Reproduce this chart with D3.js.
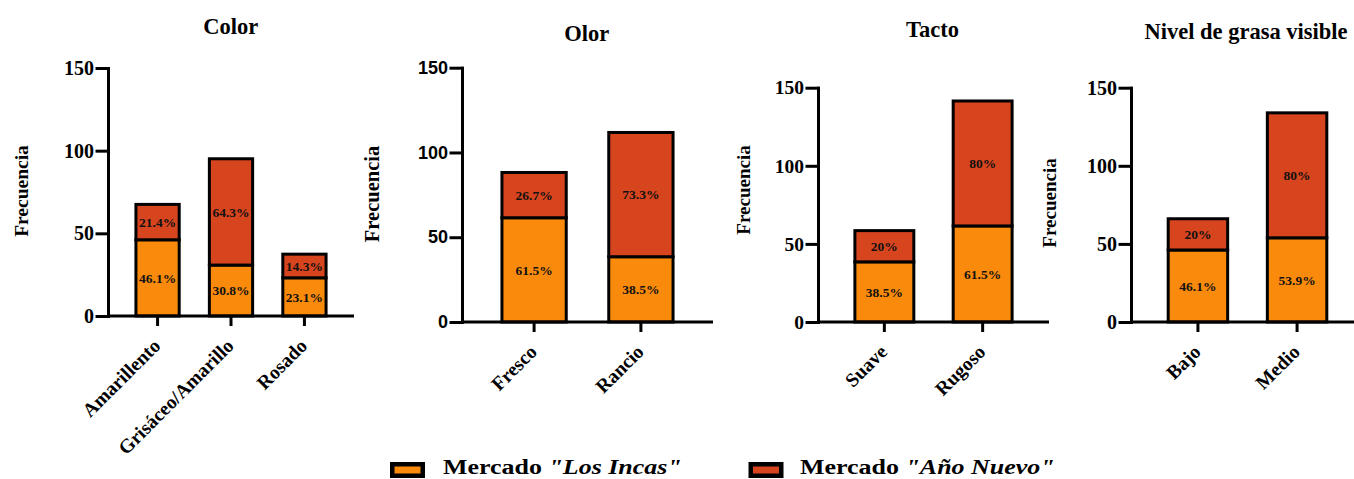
<!DOCTYPE html>
<html>
<head>
<meta charset="utf-8">
<script src="https://cdn.jsdelivr.net/npm/d3@7"></script>
<style>
  html, body { margin: 0; padding: 0; background: #fff; }
  svg { display: block; }
</style>
</head>
<body>
<svg id="chart" width="1354" height="479"></svg>
<script>
// Sensory attributes of the product in two markets (percent of each market's answers)
const colorCats  = ["Amarillento", "Grisáceo/Amarillo", "Rosado"];
const colorIncas = [46.1, 30.8, 23.1];
const colorNuevo = [21.4, 64.3, 14.3];

const olorCats  = ["Fresco", "Rancio"];
const olorIncas = [61.5, 38.5];
const olorNuevo = [26.7, 73.3];

const tactoCats  = ["Suave", "Rugoso"];
const tactoIncas = [38.5, 61.5];
const tactoNuevo = [20, 80];

const grasaCats  = ["Bajo", "Medio"];
const grasaIncas = [46.1, 53.9];
const grasaNuevo = [20, 80];

const panelTitles = ["Color", "Olor", "Tacto", "Nivel de grasa visible"];
const yTicks = [0, 50, 100, 150];
const yLabel = "Frecuencia";
const legendPrefix = "Mercado ";
const seriesNames = ["\"Los Incas\"", "\"Año Nuevo\""];

const COLORS = ["#F98A0B", "#D7451F"];
const SERIF = "'Liberation Serif', 'Times New Roman', serif";
const SANS = "'Liberation Sans', Arial, sans-serif";

const panels = [
  { cats: colorCats, incas: colorIncas, nuevo: colorNuevo },
  { cats: olorCats,  incas: olorIncas,  nuevo: olorNuevo },
  { cats: tactoCats, incas: tactoIncas, nuevo: tactoNuevo },
  { cats: grasaCats, incas: grasaIncas, nuevo: grasaNuevo }
];

// Frame of each small chart on the page
const frames = [
  { x0: 108,  x1: 354,  yTop: 68,   yBot: 316, tx: 230.7, ty: 34,   lx: 21,   ly: 191, lsize: 19.5, tickFont: SERIF, tickSize: 20 },
  { x0: 462,  x1: 713,  yTop: 67.7, yBot: 322, tx: 586.7, ty: 40.5, lx: 371.7, ly: 194, lsize: 20.5, tickFont: SANS, tickSize: 18 },
  { x0: 818,  x1: 1049, yTop: 87.7, yBot: 322, tx: 932.5, ty: 37,   lx: 743,  ly: 190, lsize: 19,   tickFont: SERIF, tickSize: 19.5 },
  { x0: 1131, x1: 1364, yTop: 87.7, yBot: 322, tx: 1246,  ty: 39.3, lx: 1049, ly: 203, lsize: 19,   tickFont: SERIF, tickSize: 20 }
];

const svg = d3.select("#chart");
const SW = 3; // stroke width of bars and axes

panels.forEach((p, i) => {
  const f = frames[i];
  const g = svg.append("g");

  const x = d3.scaleBand().domain(p.cats).range([f.x0, f.x1])
    .paddingInner(0.37).paddingOuter(0.36);
  const y = d3.scaleLinear().domain([0, 150]).range([f.yBot, f.yTop]);

  // stacked segments: Los Incas at the bottom, Año Nuevo on top
  const rows = p.cats.map((c, k) => ({ cat: c, incas: p.incas[k], nuevo: p.nuevo[k] }));
  const stack = d3.stack().keys(["incas", "nuevo"])(rows);

  stack.forEach((layer, si) => {
    const lg = g.append("g");
    lg.selectAll("rect").data(layer).join("rect")
      .attr("x", d => x(d.data.cat) + SW / 2)
      .attr("width", x.bandwidth() - SW)
      .attr("y", d => y(d[1]))
      .attr("height", d => y(d[0]) - y(d[1]))
      .attr("fill", COLORS[si])
      .attr("stroke", "#000")
      .attr("stroke-width", SW);
    lg.selectAll("text").data(layer).join("text")
      .attr("x", d => x(d.data.cat) + x.bandwidth() / 2)
      .attr("y", d => (y(d[0]) + y(d[1])) / 2)
      .attr("dy", "0.35em")
      .attr("text-anchor", "middle")
      .attr("font-family", SERIF)
      .attr("font-weight", "bold")
      .attr("font-size", 13.5)
      .attr("fill", "#111")
      .text(d => (d[1] - d[0]).toFixed(1).replace(/\.0$/, "") + "%");
  });

  // y axis
  const ya = g.append("g").attr("transform", `translate(${f.x0},0)`)
    .call(d3.axisLeft(y).tickValues(yTicks).tickSize(11).tickSizeOuter(0).tickPadding(3));
  ya.selectAll("path, line").attr("stroke", "#000").attr("stroke-width", SW).attr("stroke-linecap", "square");
  ya.selectAll("text").attr("font-family", f.tickFont).attr("font-weight", "bold")
    .attr("font-size", f.tickSize).attr("fill", "#000");

  // x axis
  const xa = g.append("g").attr("transform", `translate(0,${f.yBot})`)
    .call(d3.axisBottom(x).tickSize(10).tickSizeOuter(0));
  xa.select("path").attr("stroke", "#000").attr("stroke-width", SW).attr("d", `M${f.x0},0H${f.x1}`);
  xa.selectAll("line").attr("stroke", "#000").attr("stroke-width", SW);
  xa.selectAll("text")
    .attr("x", 0).attr("y", 0).attr("dy", 0)
    .attr("transform", "translate(4,31) rotate(-45)")
    .attr("text-anchor", "end")
    .attr("font-family", SERIF).attr("font-weight", "bold")
    .attr("font-size", 19.5).attr("fill", "#000");

  // title
  g.append("text")
    .attr("x", f.tx).attr("y", f.ty)
    .attr("text-anchor", "middle")
    .attr("font-family", SERIF).attr("font-weight", "bold").attr("font-size", 22.5)
    .text(panelTitles[i]);

  // y label
  g.append("text")
    .attr("transform", `translate(${f.lx},${f.ly}) rotate(-90)`)
    .attr("dy", "0.35em")
    .attr("text-anchor", "middle")
    .attr("font-family", SERIF).attr("font-weight", "bold").attr("font-size", f.lsize)
    .text(yLabel);
});

// legend: thick-bordered swatch followed by the market name
const legendPos = [{ sx: 390, tx: 443 }, { sx: 748.5, tx: 800 }];
seriesNames.forEach((name, i) => {
  const lp = legendPos[i];
  svg.append("rect")
    .attr("x", lp.sx + 2.25).attr("y", 464.25).attr("width", 30.5).attr("height", 11.5)
    .attr("fill", COLORS[i]).attr("stroke", "#000").attr("stroke-width", 4.5);
  const t = svg.append("text")
    .attr("transform", `translate(${lp.tx},474) scale(1.18,1)`)
    .attr("font-family", SERIF).attr("font-weight", "bold").attr("font-size", 22);
  t.append("tspan").text(legendPrefix);
  t.append("tspan").attr("font-style", "italic").text(name);
});
</script>
</body>
</html>
